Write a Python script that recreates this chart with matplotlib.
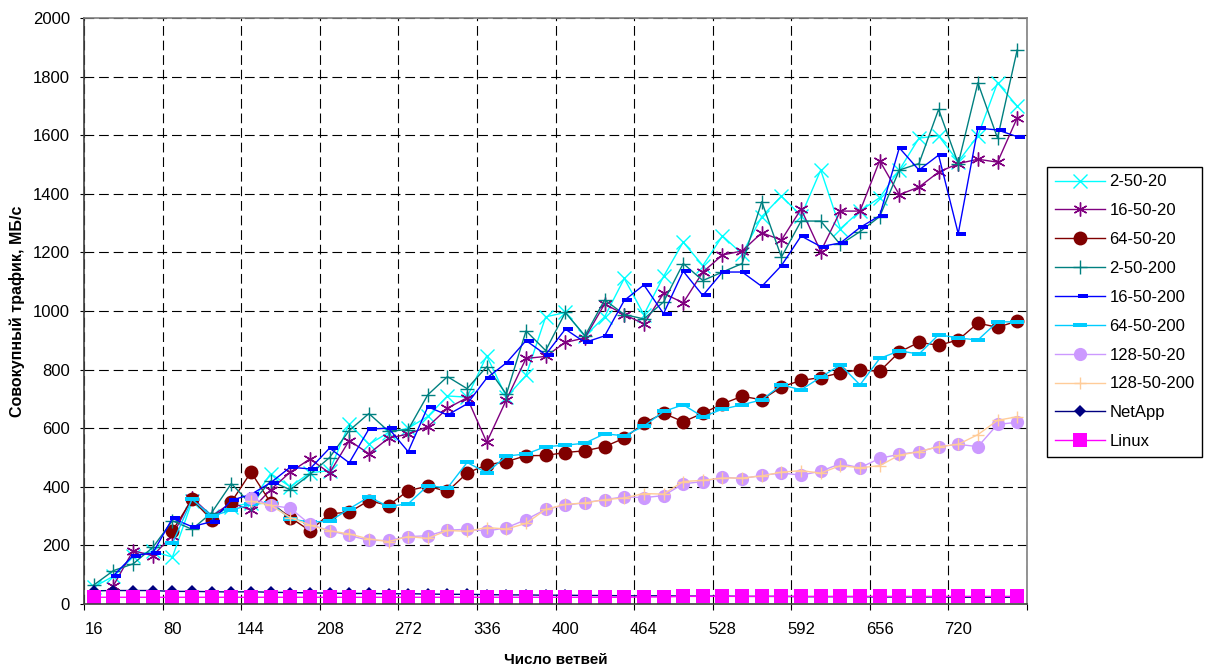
import numpy as np
import matplotlib
matplotlib.use('Agg')
import matplotlib.pyplot as plt

plt.rcParams['font.family'] = ['Liberation Sans', 'DejaVu Sans']
plt.rcParams['lines.scale_dashes'] = False

branches = [16, 32, 48, 64, 80, 96, 112, 128, 144, 160, 176, 192,
            208, 224, 240, 256, 272, 288, 304, 320, 336, 352, 368, 384,
            400, 416, 432, 448, 464, 480, 496, 512, 528, 544, 560, 576,
            592, 608, 624, 640, 656, 672, 688, 704, 720, 736, 752, 768]

s_2_50_20 = [58, 95, 165, 180, 160, 350, 300, 332, 345, 445, 400, 448,
             455, 615, 545, 585, 600, 640, 710, 706, 847, 706, 780, 980,
             995, 915, 980, 1111, 988, 1118, 1235, 1155, 1256, 1195, 1322, 1392,
             1325, 1481, 1281, 1341, 1387, 1481, 1590, 1598, 1510, 1598, 1779, 1699]
s_16_50_20 = [None, 63, 182, 165, 233, 363, 300, 346, 320, 390, 450, 495,
              447, 558, 513, 566, 580, 605, 668, 704, 552, 697, 838, 845,
              893, 908, 1024, 988, 956, 1060, 1028, 1133, 1191, 1205, 1267, 1242,
              1348, 1203, 1341, 1341, 1513, 1397, 1423, 1474, 1503, 1518, 1508, 1659]
s_64_50_20 = [None, None, None, None, 250, 357, 287, 348, 450, 346, 295, 250,
              308, 313, 353, 336, 387, 402, 384, 447, 475, 486, 506, 507,
              517, 523, 537, 566, 617, 651, 622, 651, 683, 709, 697, 741,
              763, 773, 789, 799, 794, 860, 893, 883, 901, 959, 944, 966]
s_2_50_200 = [65, 114, 137, 193, 284, 255, 312, 411, 340, 420, 390, 442,
              500, 592, 650, 590, 595, 714, 776, 735, 810, 716, 932, 865,
              995, 915, 1038, 988, 973, 1031, 1162, 1104, 1133, 1162, 1373, 1184,
              1307, 1307, 1227, 1271, 1322, 1481, 1503, 1688, 1503, 1779, 1590, 1891]
s_16_50_200 = [None, 97, 165, 174, 292, 264, 281, 354, 374, 414, 467, 461,
               532, 482, 597, 600, 520, 673, 645, 683, 771, 823, 899, 851,
               938, 893, 915, 1036, 1089, 991, 1136, 1053, 1133, 1133, 1084, 1155,
               1256, 1220, 1232, 1285, 1325, 1557, 1481, 1532, 1264, 1624, 1618, 1595]
s_64_50_200 = [None, None, None, None, 207, 357, 300, 320, 340, 346, 290, 280,
               282, 325, 365, 333, 342, 404, 396, 483, 448, 505, 512, 537,
               542, 549, 581, 574, 607, 657, 680, 639, 665, 680, 697, 748,
               731, 774, 816, 748, 838, 864, 853, 919, 908, 901, 963, 963]
s_128_50_20 = [None, None, None, None, None, None, None, None, 363, 337, 327, 272,
               250, 234, 217, 217, 230, 233, 252, 255, 249, 260, 288, 323,
               337, 346, 356, 366, 363, 370, 410, 418, 433, 428, 439, 447,
               440, 453, 479, 465, 497, 511, 520, 537, 545, 537, 613, 620]
s_128_50_200 = [None, None, None, None, None, None, None, None, 351, 337, 295, 269,
                250, 239, 222, 213, 230, 224, 251, 248, 261, 256, 275, 323,
                340, 345, 356, 362, 377, 375, 418, 422, 430, 430, 437, 450,
                455, 447, 472, 465, 472, 508, 520, 537, 545, 578, 627, 639]
s_netapp = [45, 46, 46, 46, 43, 43, 42, 41, 42, 40, 39, 38,
            37, 36, 36, 35, 35, 34, 33, 33, 32, 31, 31, 30,
            30, 29, 29, 28, 28, 28, 27, 27, 27, 26, 26, 26,
            25, 25, 25, 25, 24, 24, 24, 24, 23, 23, 23, 23]
s_linux = [23, 23, 23, 23, 23, 23, 23, 23, 23, 23, 23, 23,
           23, 23, 23, 23, 23, 23, 23, 23, 23, 23, 23, 23,
           23, 23, 23, 23, 24, 24, 26, 26, 26, 26, 26, 26,
           26, 26, 26, 26, 26, 26, 26, 26, 26, 26, 26, 26]

labels = ['2-50-20', '16-50-20', '64-50-20', '2-50-200', '16-50-200',
          '64-50-200', '128-50-20', '128-50-200', 'NetApp', 'Linux']

# excel-like markers
dash_small = [(-0.2, -0.25), (1, -0.25), (1, 0.25), (-0.2, 0.25)]
dash_wide = [(-1, -0.33), (1, -0.33), (1, 0.33), (-1, 0.33)]

styles = [
    dict(color='#00FFFF', marker='x', ms=9.5, mew=1.0),
    dict(color='#800080', marker=(6, 2, 0), ms=10, mew=1.0),
    dict(color='#800000', marker='o', ms=10, mew=0),
    dict(color='#008080', marker='+', ms=10, mew=1.0),
    dict(color='#0000FF', marker=dash_small, ms=11, mew=0),
    dict(color='#00CCFF', marker=dash_wide, ms=10, mew=0),
    dict(color='#CC99FF', marker='o', ms=9.5, mew=0),
    dict(color='#FFCC99', marker='+', ms=9, mew=1.0),
    dict(color='#000080', marker='D', ms=6.5, mew=0),
    dict(color='#FF00FF', marker='s', ms=9.5, mew=0),
]

series = [s_2_50_20, s_16_50_20, s_64_50_20, s_2_50_200, s_16_50_200,
          s_64_50_200, s_128_50_20, s_128_50_200, s_netapp, s_linux]

fig = plt.figure(figsize=(12.13, 6.68), dpi=100)
ax = fig.add_axes([84 / 1213, 1 - 604 / 668, 943 / 1213, 586 / 668])

x = np.arange(len(branches))
for vals, lab, st in zip(series, labels, styles):
    y = np.array(vals, dtype=float)
    ax.plot(x, y, lw=1.0, label=lab, color=st['color'], marker=st['marker'],
            markersize=st['ms'], markeredgewidth=st['mew'],
            markerfacecolor=st['color'], markeredgecolor=st['color'])

ax.set_xlim(-0.5, len(branches) - 0.5)
ax.set_ylim(0, 2000)
ax.set_yticks(np.arange(0, 2001, 200))

# gridlines at category boundaries, labels every 4th category
ax.set_xticks(np.arange(-0.5, len(branches), 4))
ax.set_xticklabels([])
ax.set_xticks(x[::4], minor=True)
ax.set_xticklabels([str(b) for b in branches[::4]], minor=True)
ax.tick_params(axis='x', which='major', length=4, width=0.8, direction='out')
ax.tick_params(axis='x', which='minor', length=0, pad=13, labelsize=12)
ax.tick_params(axis='y', length=3, width=0.8, pad=7, labelsize=12)

ax.grid(True, which='major', color='black', lw=0.8, linestyle=(0, (7, 3.5)))
ax.set_axisbelow(True)

for side in ['top', 'right']:
    ax.spines[side].set_color('#808080')
    ax.spines[side].set_linewidth(1.2)
for side in ['left', 'bottom']:
    ax.spines[side].set_color('#404040')
    ax.spines[side].set_linewidth(1.2)

ax.set_ylabel('Совокупный трафик, МБ/с', fontsize=11.5, fontweight='bold')
ax.yaxis.set_label_coords(-0.063, 0.5)
ax.set_xlabel('Число ветвей', fontsize=11, fontweight='bold')
ax.xaxis.set_label_coords(0.5, -0.083)

leg = fig.legend(loc='upper left', bbox_to_anchor=(1047 / 1213, 1 - 167 / 668),
                 fontsize=12, handlelength=3.0, handletextpad=0.3,
                 labelspacing=0.83, borderpad=0.45, borderaxespad=0,
                 fancybox=False, edgecolor='black', framealpha=1)
leg.get_frame().set_linewidth(1.0)

fig.savefig('out.png', dpi=100)
